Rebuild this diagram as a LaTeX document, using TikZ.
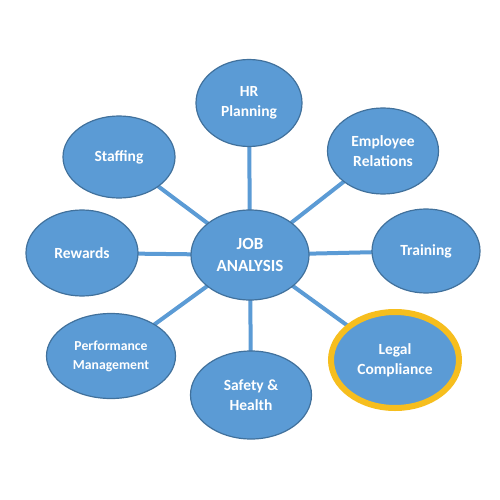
\documentclass[tikz,border=0pt]{standalone}
\usepackage{fontspec}
\setmainfont{Carlito}
\usetikzlibrary{shapes.geometric,backgrounds}
\definecolor{bfill}{HTML}{5B9BD5}
\definecolor{bedge}{HTML}{41719C}
\definecolor{bline}{HTML}{5B9BD5}
\definecolor{gold}{HTML}{F6BE1E}
\tikzset{
  bub/.style={ellipse, fill=bfill, draw=bedge, line width=1.2pt, inner sep=0pt,
    text=white, font=\bfseries\fontsize{15.5}{20}\selectfont, align=center},
  link/.style={draw=bline, line width=4pt},
}
\begin{document}
\begin{tikzpicture}[x=1pt,y=-1pt]
\useasboundingbox (0,0) rectangle (500,500);
\node[bub, minimum width=118pt, minimum height=90pt, font=\bfseries\fontsize{17}{22}\selectfont] (c) at (250,255) {JOB\\ANALYSIS};
\node[bub, minimum width=106pt, minimum height=87pt] (hr) at (249,103) {HR\\Planning};
\node[bub, minimum width=112pt, minimum height=82pt] (st) at (119,157) {Staffing};
\node[bub, minimum width=111pt, minimum height=86pt] (er) at (383,151) {Employee\\Relations};
\node[bub, minimum width=112pt, minimum height=86pt] (rw) at (82,253) {Rewards};
\node[bub, minimum width=108pt, minimum height=84pt] (tr) at (426,251) {Training};
\node[bub, minimum width=129pt, minimum height=85pt, font=\bfseries\fontsize{13.7}{19}\selectfont] (pm) at (111,356) {Performance\\Management};
\node[bub, minimum width=121pt, minimum height=88pt] (sh) at (251,395) {Safety \&\\Health};
\node[bub, draw=gold, line width=6pt, minimum width=128pt, minimum height=96pt] (lc) at (395,360) {Legal\\Compliance};
\begin{scope}[on background layer]
\fill[white] (0,0) rectangle (500,500);
\foreach \n in {hr,st,er,rw,tr,pm,sh,lc}
  \draw[link] (c.center) -- (\n.center);
\end{scope}
\end{tikzpicture}
\end{document}
